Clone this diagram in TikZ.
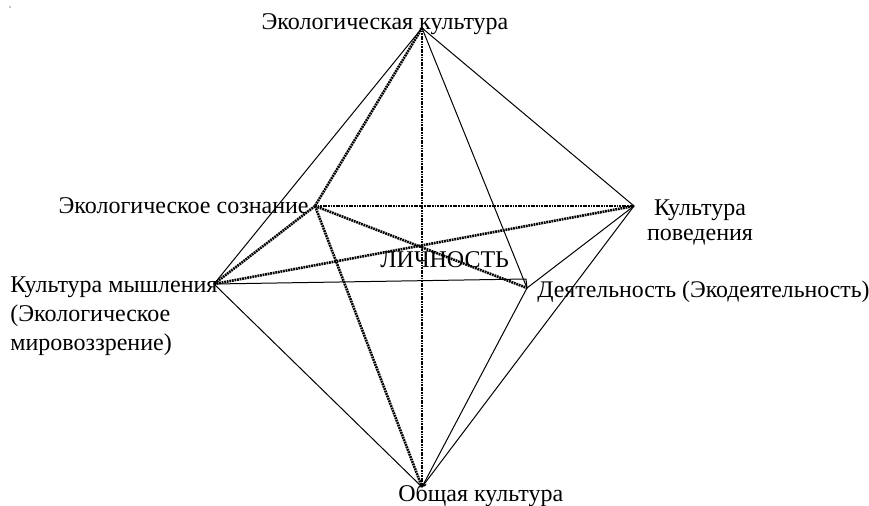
\documentclass[tikz,border=0pt]{standalone}
\usepackage{fontspec}
\setmainfont{Liberation Serif}
\usetikzlibrary{positioning}
\tikzset{
  edge/.style={line width=0.5pt, line cap=round},
  dotedge/.style={line width=1.3pt, dash pattern=on 0.9pt off 0.4pt},
  lbl/.style={font=\fontsize{12}{14.5}\selectfont, inner sep=0pt},
}

\begin{document}
\begin{tikzpicture}[x=0.5pt, y=-0.5pt]
\useasboundingbox (0,0) rectangle (869,505);
\fill (10,7) circle (0.6);
% vertices of the octahedron
\coordinate (top) at (422,28);
\coordinate (soz) at (315,206);
\coordinate (pov) at (634,206);
\coordinate (mysh) at (214,284);
\coordinate (deyat) at (527,288);
\coordinate (knee) at (526,279);
\coordinate (obsh) at (422,487);
% labels
\node[lbl, anchor=base] (ekokult) at (385,29) {Экологическая культура};
\node[lbl, anchor=base east] (ekosoz) at (309,213) {Экологическое сознание};
\node[lbl, font=\fontsize{12}{12.5}\selectfont, anchor=base, align=center] (kultpov) at (700,240) {Культура\\поведения};
\node[lbl, anchor=base west, align=left] (kultmysh) at (10,350) {Культура мышления\\(Экологическое\\мировоззрение)};
\node[lbl, font=\fontsize{11.9}{14}\selectfont, anchor=base west] (deyatlbl) at (537,297) {Деятельность (Экодеятельность)};
\node[lbl, anchor=base west] (lichn) at (380,267) {ЛИЧНОСТЬ};
\node[lbl, anchor=base west] (obshlbl) at (398,501) {Общая культура};
% solid edges
\foreach \u/\v in {top/mysh,top/pov,top/deyat,pov/deyat,pov/obsh,deyat/obsh,mysh/obsh}
  \draw[edge] (\u) -- (\v);
\draw[edge] (mysh) -- (knee) -- (deyat);
% dotted edges
\foreach \u/\v in {top/soz,top/obsh,soz/pov,soz/deyat,mysh/pov,soz/mysh,soz/obsh}
  \draw[dotedge] (\u) -- (\v);
\end{tikzpicture}
\end{document}
